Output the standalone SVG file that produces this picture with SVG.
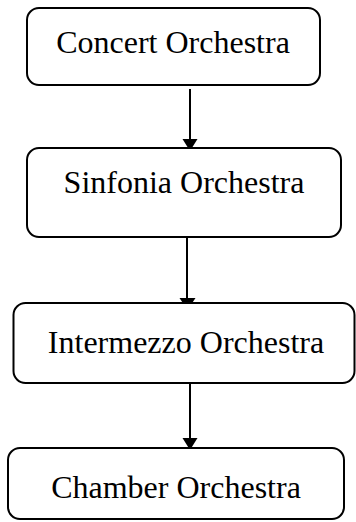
<svg xmlns="http://www.w3.org/2000/svg" width="356" height="522" viewBox="0 0 356 522">
<style>
.box{fill:#fff;stroke:#000;stroke-width:2}
.lbl{font-family:"Liberation Serif","Times New Roman",serif;font-size:32px;fill:#000;text-anchor:middle}
.ln{stroke:#000;stroke-width:2;fill:none}
.hd{fill:#000;stroke:none}
</style>
<rect width="356" height="522" fill="#fff"/>
<g id="connectors">
<line class="ln" x1="190" y1="89" x2="190" y2="140"/>
<polygon class="hd" points="182.5,139 197.5,139 190,151"/>
<line class="ln" x1="187" y1="237" x2="187" y2="299"/>
<polygon class="hd" points="179.5,298 195.5,298 187.5,310"/>
<line class="ln" x1="190" y1="383" x2="190" y2="439"/>
<polygon class="hd" points="182.5,438 197.5,438 190,450"/>
</g>
<g id="concert">
<rect class="box" x="27" y="8" width="293" height="77" rx="12"/>
<text class="lbl" x="173" y="53">Concert Orchestra</text>
</g>
<g id="sinfonia">
<rect class="box" x="27" y="148" width="314" height="89" rx="12"/>
<text class="lbl" x="184" y="193">Sinfonia Orchestra</text>
</g>
<g id="intermezzo">
<rect class="box" x="13.5" y="303" width="341" height="80" rx="12"/>
<text class="lbl" x="186" y="353">Intermezzo Orchestra</text>
</g>
<g id="chamber">
<rect class="box" x="8" y="448" width="336" height="71" rx="12"/>
<text class="lbl" x="176" y="498">Chamber Orchestra</text>
</g>
</svg>
